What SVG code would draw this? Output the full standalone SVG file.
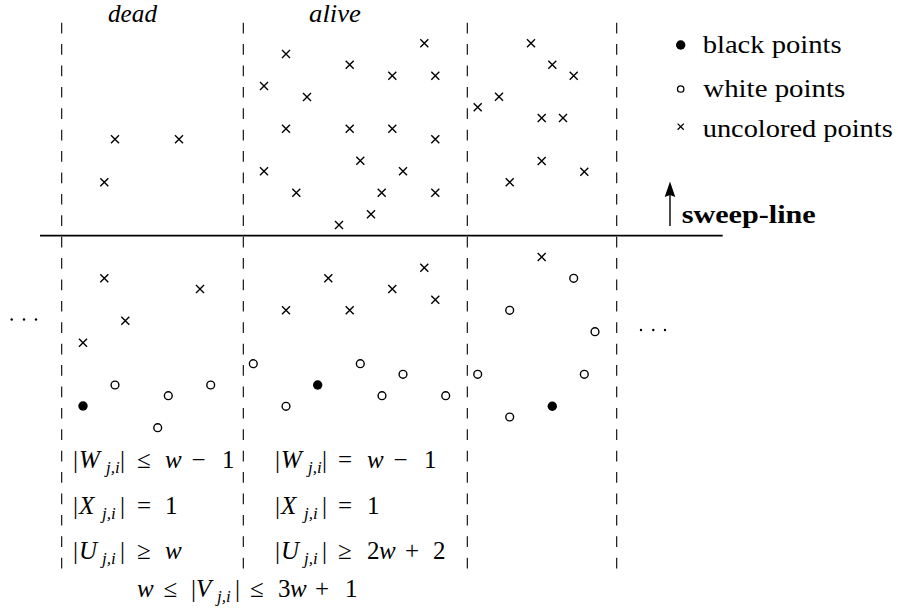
<svg xmlns="http://www.w3.org/2000/svg" xmlns:xlink="http://www.w3.org/1999/xlink" width="898" height="614" viewBox="0 0 898 614">
<style>
.dash{stroke:#000;stroke-width:1.1;stroke-dasharray:10.7 10.7;fill:none}
.sub{font-size:17px}
</style>
<defs>
<path id="x" d="M-4,-4L4,4M-4,4L4,-4" stroke="#000" stroke-width="1.4" fill="none"/>
<circle id="o" r="3.9" fill="#fff" stroke="#000" stroke-width="1.4"/>
<circle id="b" r="4.7" fill="#000"/>
</defs>
<rect width="898" height="614" fill="#fff"/>

<g id="columns">
<line class="dash" x1="61.7" y1="22.7" x2="61.7" y2="568.5"/>
<line class="dash" x1="243.3" y1="22.7" x2="243.3" y2="568.5"/>
<line class="dash" x1="467.3" y1="22.7" x2="467.3" y2="568.5"/>
<line class="dash" x1="616.7" y1="22.7" x2="616.7" y2="568.5"/>
</g>

<g id="column-labels" font-family="Liberation Serif, serif" font-size="25" font-style="italic">
<text x="108" y="22" textLength="49" lengthAdjust="spacingAndGlyphs">dead</text>
<text x="309" y="22" textLength="52" lengthAdjust="spacingAndGlyphs">alive</text>
</g>

<g id="connectors">
<line id="sweep-line" x1="40" y1="235.6" x2="722.7" y2="235.6" stroke="#000" stroke-width="1.8"/>
<line x1="670" y1="226" x2="670" y2="194" stroke="#000" stroke-width="1.4"/>
<path d="M670,181.5L675.3,197L670,195L664.7,197Z" fill="#000"/>
</g>

<g id="sweep-label" font-family="Liberation Serif, serif" font-size="25" font-weight="bold">
<text x="681.7" y="222.7" textLength="134" lengthAdjust="spacingAndGlyphs">sweep-line</text>
</g>

<g id="legend" font-family="Liberation Serif, serif" font-size="25">
<use xlink:href="#b" x="680.7" y="45"/>
<circle cx="680.7" cy="89" r="3.2" fill="#fff" stroke="#000" stroke-width="1.3"/>
<path d="M677.6,123.6L683.8,129.8M677.6,129.8L683.8,123.6" stroke="#000" stroke-width="1.3"/>
<text x="702.7" y="53.3" textLength="139" lengthAdjust="spacingAndGlyphs">black points</text>
<text x="703.3" y="96.7" textLength="142" lengthAdjust="spacingAndGlyphs">white points</text>
<text x="702.7" y="136.7" textLength="190" lengthAdjust="spacingAndGlyphs">uncolored points</text>
</g>

<g id="points-top">
<use xlink:href="#x" x="115" y="139.3"/>
<use xlink:href="#x" x="179" y="139.3"/>
<use xlink:href="#x" x="104.3" y="182.3"/>

<use xlink:href="#x" x="424.3" y="43.3"/>
<use xlink:href="#x" x="286" y="54"/>
<use xlink:href="#x" x="349.7" y="64.7"/>
<use xlink:href="#x" x="392.3" y="75.7"/>
<use xlink:href="#x" x="435.3" y="75.7"/>
<use xlink:href="#x" x="264" y="86"/>
<use xlink:href="#x" x="307" y="97"/>
<use xlink:href="#x" x="286" y="128.7"/>
<use xlink:href="#x" x="349.7" y="128.7"/>
<use xlink:href="#x" x="392.3" y="128.7"/>
<use xlink:href="#x" x="435.3" y="139.3"/>
<use xlink:href="#x" x="360.3" y="160.7"/>
<use xlink:href="#x" x="264" y="171.3"/>
<use xlink:href="#x" x="403" y="171.3"/>
<use xlink:href="#x" x="296.3" y="192.7"/>
<use xlink:href="#x" x="381.7" y="192.7"/>
<use xlink:href="#x" x="435.3" y="192.7"/>
<use xlink:href="#x" x="371" y="214.3"/>
<use xlink:href="#x" x="339" y="225"/>

<use xlink:href="#x" x="531" y="43.3"/>
<use xlink:href="#x" x="552.3" y="64.7"/>
<use xlink:href="#x" x="573.7" y="75.7"/>
<use xlink:href="#x" x="499" y="96.7"/>
<use xlink:href="#x" x="477.7" y="107.3"/>
<use xlink:href="#x" x="541.7" y="118"/>
<use xlink:href="#x" x="563" y="118"/>
<use xlink:href="#x" x="541.7" y="161"/>
<use xlink:href="#x" x="584.3" y="171.7"/>
<use xlink:href="#x" x="509.7" y="182.3"/>
</g>

<g id="points-bottom">
<use xlink:href="#x" x="104.3" y="278.3"/>
<use xlink:href="#x" x="200" y="289"/>
<use xlink:href="#x" x="125.3" y="320.7"/>
<use xlink:href="#x" x="83" y="342.7"/>
<use xlink:href="#o" x="115" y="385"/>
<use xlink:href="#o" x="168.3" y="395.7"/>
<use xlink:href="#o" x="210.7" y="385"/>
<use xlink:href="#o" x="157.7" y="427.7"/>
<use xlink:href="#b" x="83" y="406"/>

<use xlink:href="#x" x="424.3" y="267.7"/>
<use xlink:href="#x" x="328.3" y="278.3"/>
<use xlink:href="#x" x="392.3" y="289"/>
<use xlink:href="#x" x="435.3" y="299.7"/>
<use xlink:href="#x" x="286" y="310.3"/>
<use xlink:href="#x" x="349.7" y="310.3"/>
<use xlink:href="#o" x="253.3" y="363.7"/>
<use xlink:href="#o" x="360.3" y="363.7"/>
<use xlink:href="#o" x="403" y="374.3"/>
<use xlink:href="#o" x="382" y="395.7"/>
<use xlink:href="#o" x="445.7" y="395.7"/>
<use xlink:href="#o" x="286" y="406.3"/>
<use xlink:href="#b" x="317.7" y="385"/>

<use xlink:href="#x" x="541.7" y="257"/>
<use xlink:href="#o" x="573.7" y="278.3"/>
<use xlink:href="#o" x="509.7" y="310.3"/>
<use xlink:href="#o" x="595" y="331.7"/>
<use xlink:href="#o" x="477.7" y="374.3"/>
<use xlink:href="#o" x="584.3" y="374.3"/>
<use xlink:href="#o" x="509.7" y="417"/>
<use xlink:href="#b" x="552.3" y="406.3"/>
</g>

<g id="ellipses" fill="#000">
<circle cx="11.7" cy="319.5" r="1.2"/>
<circle cx="24" cy="319.5" r="1.2"/>
<circle cx="36" cy="319.5" r="1.2"/>
<circle cx="641" cy="330" r="1.2"/>
<circle cx="653.3" cy="330" r="1.2"/>
<circle cx="665" cy="330" r="1.2"/>
</g>

<g id="formulas" font-family="Liberation Serif, serif" font-size="25">
<text y="468"><tspan x="73">|</tspan><tspan x="79" font-style="italic">W</tspan><tspan x="106" class="sub" font-style="italic" dy="5">j,i</tspan><tspan x="120" dy="-5">|</tspan><tspan x="137">≤</tspan><tspan x="165" font-style="italic">w</tspan><tspan x="191.5">−</tspan><tspan x="222">1</tspan></text>
<text y="514"><tspan x="73">|</tspan><tspan x="79" font-style="italic">X</tspan><tspan x="102" class="sub" font-style="italic" dy="5">j,i</tspan><tspan x="120" dy="-5">|</tspan><tspan x="137">=</tspan><tspan x="165">1</tspan></text>
<text y="559"><tspan x="73">|</tspan><tspan x="79" font-style="italic">U</tspan><tspan x="102" class="sub" font-style="italic" dy="5">j,i</tspan><tspan x="120" dy="-5">|</tspan><tspan x="137">≥</tspan><tspan x="165" font-style="italic">w</tspan></text>

<text y="468"><tspan x="275">|</tspan><tspan x="281" font-style="italic">W</tspan><tspan x="308" class="sub" font-style="italic" dy="5">j,i</tspan><tspan x="322" dy="-5">|</tspan><tspan x="338">=</tspan><tspan x="367" font-style="italic">w</tspan><tspan x="393.5">−</tspan><tspan x="424">1</tspan></text>
<text y="514"><tspan x="275">|</tspan><tspan x="281" font-style="italic">X</tspan><tspan x="304" class="sub" font-style="italic" dy="5">j,i</tspan><tspan x="322" dy="-5">|</tspan><tspan x="338">=</tspan><tspan x="367">1</tspan></text>
<text y="559"><tspan x="275">|</tspan><tspan x="281" font-style="italic">U</tspan><tspan x="304" class="sub" font-style="italic" dy="5">j,i</tspan><tspan x="322" dy="-5">|</tspan><tspan x="338">≥</tspan><tspan x="367">2</tspan><tspan x="379" font-style="italic">w</tspan><tspan x="405">+</tspan><tspan x="433">2</tspan></text>

<text y="596.5"><tspan x="137" font-style="italic">w</tspan><tspan x="163.5">≤</tspan><tspan x="191">|</tspan><tspan x="196" font-style="italic">V</tspan><tspan x="217" class="sub" font-style="italic" dy="5">j,i</tspan><tspan x="235" dy="-5">|</tspan><tspan x="250">≤</tspan><tspan x="278">3</tspan><tspan x="290" font-style="italic">w</tspan><tspan x="315">+</tspan><tspan x="345">1</tspan></text>
</g>
</svg>
